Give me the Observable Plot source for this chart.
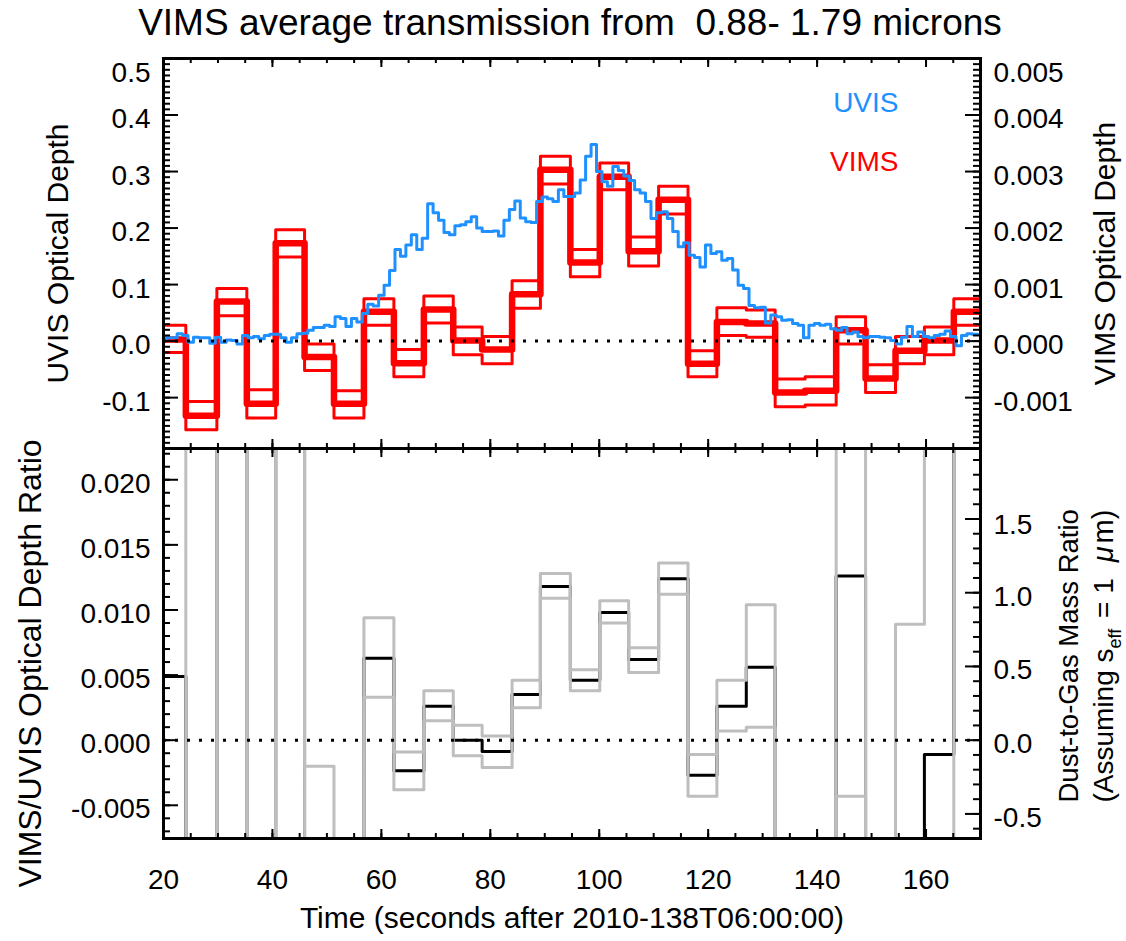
<!DOCTYPE html>
<html><head><meta charset="utf-8">
<script src="https://cdn.jsdelivr.net/npm/d3@7"></script>
<script src="https://cdn.jsdelivr.net/npm/@observablehq/plot@0.6"></script>
<style>
body{margin:0;background:#fff;}
#wrap{position:relative;width:1126px;height:941px;font-family:"Liberation Sans",Arial,Helvetica,sans-serif;overflow:hidden;background:#fff;}
#title{position:absolute;left:7px;top:0;width:1126px;text-align:center;font-size:37px;line-height:46px;color:#000;white-space:pre;}
.panel{position:absolute;left:0;}
</style></head><body>
<div id="wrap"><div id="title">VIMS average transmission from  0.88- 1.79 microns</div></div>
<script>
// ---------------- DATA ----------------
// UVIS optical depth, ~1 s samples starting at t = 19.5 s
const uvisStart = 19.5, uvisStep = 1.0;
const uvisDepth = [
 0.004,0.006,0.006,0.013,0.010,-0.002,0.007,0.006,0.006,-0.004,
 0.007,-0.002,0.002,0.001,-0.005,0.010,0.006,0.008,0.004,0.010,
 0.012,0.012,0.006,-0.002,0.006,0.013,0.014,0.019,0.024,0.024,
 0.028,0.026,0.043,0.040,0.026,0.040,0.034,0.049,0.065,0.062,
 0.081,0.099,0.125,0.162,0.150,0.170,0.188,0.162,0.182,0.243,
 0.227,0.214,0.192,0.188,0.204,0.206,0.211,0.220,0.200,0.194,
 0.194,0.195,0.186,0.214,0.233,0.248,0.218,0.211,0.210,0.247,
 0.255,0.252,0.247,0.268,0.256,0.256,0.262,0.285,0.327,0.348,
 0.300,0.282,0.274,0.309,0.302,0.292,0.284,0.268,0.262,0.247,
 0.217,0.227,0.229,0.217,0.194,0.167,0.174,0.152,0.148,0.131,
 0.170,0.155,0.158,0.143,0.146,0.126,0.099,0.093,0.063,0.059,
 0.060,0.032,0.046,0.043,0.037,0.038,0.031,0.028,0.006,0.028,
 0.031,0.028,0.030,0.022,0.019,0.024,0.013,0.016,0.008,0.006,
 0.008,0.008,0.007,0.006,0.001,-0.005,0.007,0.026,0.008,0.016,
 0.008,0.006,0.010,0.012,0.018,0.008,-0.008,0.010,0.013,0.012];

// VIMS bins (start times, s) and optical depth with upper / lower bounds
const vimsBinStart = [18.7,24.1,29.8,35.3,40.6,45.9,51.3,56.8,62.3,67.8,73.2,78.5,84.0,89.2,
                      94.7,100.1,105.4,110.9,116.3,121.6,127.0,132.3,137.8,143.5,148.9,154.4,159.7,165.1];
const vimsBinEnd = 170.5;
const vimsDepth = [0.00003,-0.00132,0.00070,-0.00111,0.00173,-0.00028,-0.00111,0.00052,-0.00039,0.00056,
                   0.00001,-0.00015,0.00083,0.00303,0.00139,0.00291,0.00159,0.00250,-0.00040,0.00034,
                   0.00031,-0.00091,-0.00088,0.00019,-0.00066,-0.00017,0.00001,0.00052];
const vimsUpper = [0.00028,-0.00107,0.00093,-0.00086,0.00197,-0.00005,-0.00088,0.00075,-0.00015,0.00080,
                   0.00025,0.00008,0.00107,0.00327,0.00162,0.00315,0.00184,0.00274,-0.00017,0.00059,
                   0.00055,-0.00067,-0.00063,0.00043,-0.00042,0.00008,0.00025,0.00075];
const vimsLower = [-0.00020,-0.00157,0.00045,-0.00136,0.00149,-0.00052,-0.00136,0.00028,-0.00063,0.00032,
                   -0.00024,-0.00040,0.00058,0.00278,0.00114,0.00268,0.00133,0.00225,-0.00063,0.00010,
                   0.00007,-0.00116,-0.00113,-0.00005,-0.00091,-0.00040,-0.00024,0.00028];

// VIMS/UVIS optical depth ratio per VIMS bin, with upper / lower bounds
const ratio      = [0.0049,-0.26,0.14,-0.20,0.20,-0.011,-0.05,0.0063,-0.00235,0.0026,
                    0.0000,-0.00087,0.0035,0.0118,0.0046,0.0098,0.0062,0.0124,-0.0027,0.0026,
                    0.0056,-0.05,-0.05,0.0126,-0.05,-0.012,-0.0011,0.05];
const ratioUpper = [0.047,-0.21,0.19,-0.15,0.23,-0.0020,-0.04,0.0094,-0.0009,0.0038,
                    0.00115,0.00033,0.0046,0.0128,0.0054,0.0107,0.0071,0.0136,-0.0011,0.0046,
                    0.0104,-0.04,-0.04,0.04,-0.03,0.0089,0.03,0.075];
const ratioLower = [-0.033,-0.31,0.09,-0.25,0.17,-0.020,-0.06,0.0033,-0.0038,0.0015,
                    -0.0012,-0.0021,0.0025,0.0109,0.0038,0.0090,0.0052,0.0112,-0.0043,0.0007,
                    0.0010,-0.06,-0.06,-0.0043,-0.07,-0.03,-0.03,0.028];

// axes / ticks
const xTicks = [20,40,60,80,100,120,140,160];
const xTickLabels = ["20","40","60","80","100","120","140","160"];
const uvisTicks = [-0.1,0,0.1,0.2,0.3,0.4,0.5];
const uvisTickLabels = ["-0.1","0.0","0.1","0.2","0.3","0.4","0.5"];
const vimsTicks = [-0.001,0,0.001,0.002,0.003,0.004,0.005];
const vimsTickLabels = ["-0.001","0.000","0.001","0.002","0.003","0.004","0.005"];
const ratioTicks = [-0.005,0,0.005,0.010,0.015,0.020];
const ratioTickLabels = ["-0.005","0.000","0.005","0.010","0.015","0.020"];
const dustTicks = [-0.5,0,0.5,1.0,1.5];
const dustTickLabels = ["-0.5","0.0","0.5","1.0","1.5"];
const vimsToUvisAxis = 100;     // right axis (VIMS) -> left axis units
const dustPerRatio = 88.3;      // right axis (dust/gas) per unit of ratio

// ---------------- LAYOUT ----------------
const FONT = "Liberation Sans, Arial, Helvetica, sans-serif";
const W = 1126, ML = 163, MR = 146, FH = 390, FW = W - ML - MR;
const TICK_FS = 28, LABEL_FS = 30;

const steps = (starts, end, vals) =>
  starts.map((t, i) => ({t, v: vals[i]})).concat([{t: end, v: vals[vals.length - 1]}]);
const uvisRows = uvisDepth.map((v, i) => ({t: uvisStart + i * uvisStep, v}))
  .concat([{t: uvisStart + uvisDepth.length * uvisStep, v: uvisDepth[uvisDepth.length - 1]}]);

const xMinor = d3.range(20, 170.01, 5);
function xTickMarks() {
  const s = {stroke: "black", strokeWidth: 2};
  return [
    Plot.ruleX(xMinor, {...s, insetTop: FH - 5}),
    Plot.ruleX(xTicks, {...s, insetTop: FH - 9}),
    Plot.ruleX(xMinor, {...s, insetBottom: FH - 5}),
    Plot.ruleX(xTicks, {...s, insetBottom: FH - 9})
  ];
}
function yTickMarks(major, minor, side) {
  const s = {stroke: "black", strokeWidth: 2};
  const k = side === "left" ? "insetRight" : "insetLeft";
  return [
    Plot.ruleY(minor, {...s, [k]: FW - 7}),
    Plot.ruleY(major, {...s, [k]: FW - 15})
  ];
}
function tickText(vals, labels, side, dyTop) {
  const n = vals.length;
  const base = {
    y: d => d, frameAnchor: side, textAnchor: side === "left" ? "end" : "start", lineAnchor: "middle",
    dx: side === "left" ? -13 : 13, fontSize: TICK_FS, fill: "black"
  };
  return [
    Plot.text(vals.slice(0, n - 1), {...base, text: (d, i) => labels[i], dy: 4}),
    Plot.text(vals.slice(n - 1), {...base, text: () => labels[n - 1], dy: dyTop})
  ];
}
const rotLabel = (txt, o) => Plot.text([txt], {rotate: -90, textAnchor: "middle", lineAnchor: "middle", fill: "black", fontSize: LABEL_FS, ...o});

// ---------------- TOP PANEL ----------------
const topPlot = Plot.plot({
  width: W, height: 448, marginLeft: ML, marginRight: MR, marginTop: 58, marginBottom: 0,
  x: {domain: [20, 170], axis: null},
  y: {domain: [-0.19, 0.5], axis: null},
  style: {fontFamily: FONT, background: "transparent", overflow: "visible"},
  marks: [
    Plot.line(steps(vimsBinStart, vimsBinEnd, vimsUpper), {x: "t", y: d => d.v * vimsToUvisAxis, curve: "step-after", stroke: "#ff0000", strokeWidth: 3, clip: true}),
    Plot.line(steps(vimsBinStart, vimsBinEnd, vimsLower), {x: "t", y: d => d.v * vimsToUvisAxis, curve: "step-after", stroke: "#ff0000", strokeWidth: 3, clip: true}),
    Plot.line(steps(vimsBinStart, vimsBinEnd, vimsDepth), {x: "t", y: d => d.v * vimsToUvisAxis, curve: "step-after", stroke: "#ff0000", strokeWidth: 6.5, clip: true}),
    Plot.line(uvisRows, {x: "t", y: "v", curve: "step-after", stroke: "#1e90ff", strokeWidth: 3, clip: true}),
    Plot.ruleY([0], {stroke: "black", strokeWidth: 3, strokeDasharray: "3 9"}),
    ...xTickMarks(),
    ...yTickMarks(uvisTicks, d3.range(-0.19, 0.5001, 0.01), "left"),
    ...yTickMarks(vimsTicks.map(v => v * vimsToUvisAxis), d3.range(-0.0019, 0.005001, 0.0001).map(v => v * vimsToUvisAxis), "right"),
    Plot.frame({stroke: "black", strokeWidth: 3}),
    ...tickText(uvisTicks, uvisTickLabels, "left", 15),
    ...tickText(vimsTicks.map(v => v * vimsToUvisAxis), vimsTickLabels, "right", 15),
    rotLabel("UVIS Optical Depth", {frameAnchor: "left", dx: -105}),
    rotLabel("VIMS Optical Depth", {frameAnchor: "right", dx: 125}),
    Plot.text(["UVIS"], {frameAnchor: "top-right", dx: -82, dy: 45, textAnchor: "end", lineAnchor: "middle", fontSize: 28, fill: "#1e90ff"}),
    Plot.text(["VIMS"], {frameAnchor: "top-right", dx: -82, dy: 104, textAnchor: "end", lineAnchor: "middle", fontSize: 28, fill: "#ff0000"})
  ]
});
topPlot.classList.add("panel");
topPlot.style.top = "0px";

// ---------------- BOTTOM PANEL ----------------
const label2 = "(Assuming seff = 1 μm)";
const botPlot = Plot.plot({
  width: W, height: 493, marginLeft: ML, marginRight: MR, marginTop: 0, marginBottom: 103,
  x: {domain: [20, 170], axis: null},
  y: {domain: [-0.00755, 0.0224], axis: null},
  style: {fontFamily: FONT, background: "transparent", overflow: "visible"},
  marks: [
    Plot.line(steps(vimsBinStart, vimsBinEnd, ratio), {x: "t", y: "v", curve: "step-after", stroke: "black", strokeWidth: 3, clip: true}),
    Plot.line(steps(vimsBinStart, vimsBinEnd, ratioUpper), {x: "t", y: "v", curve: "step-after", stroke: "#bebebe", strokeWidth: 3, clip: true}),
    Plot.line(steps(vimsBinStart, vimsBinEnd, ratioLower), {x: "t", y: "v", curve: "step-after", stroke: "#bebebe", strokeWidth: 3, clip: true}),
    Plot.ruleY([0], {stroke: "black", strokeWidth: 3, strokeDasharray: "3 9"}),
    ...xTickMarks(),
    ...yTickMarks(ratioTicks, d3.range(-0.007, 0.02201, 0.001), "left"),
    ...yTickMarks(dustTicks.map(v => v / dustPerRatio), d3.range(-0.6, 1.9501, 0.1).map(v => v / dustPerRatio), "right"),
    Plot.frame({stroke: "black", strokeWidth: 3}),
    ...tickText(ratioTicks, ratioTickLabels, "left", 4),
    ...tickText(dustTicks.map(v => v / dustPerRatio), dustTickLabels, "right", 6),
    Plot.text(xTicks, {x: d => d, text: (d, i) => xTickLabels[i], frameAnchor: "bottom", lineAnchor: "middle", dy: 42, fontSize: TICK_FS, fill: "black"}),
    Plot.text(["Time (seconds after 2010-138T06:00:00)"], {frameAnchor: "bottom", lineAnchor: "middle", dy: 80, fontSize: LABEL_FS, fill: "black"}),
    rotLabel("VIMS/UVIS Optical Depth Ratio", {frameAnchor: "left", dx: -133, dy: 20, fontSize: 32}),
    rotLabel("Dust-to-Gas Mass Ratio", {frameAnchor: "bottom-right", dx: 89, dy: -36, textAnchor: "start", fontSize: 27.5}),
    rotLabel(label2, {frameAnchor: "bottom-right", dx: 124, dy: -36, textAnchor: "start", fontSize: 28})
  ]
});
botPlot.classList.add("panel");
botPlot.style.top = "448px";

// subscript "eff" and Greek mu
d3.select(botPlot).selectAll("text").filter(function() { return this.textContent === label2; })
  .each(function() {
    const t = d3.select(this);
    t.text(null);
    t.append("tspan").text("(Assuming s");
    t.append("tspan").attr("dy", 8).attr("font-size", 18).text("eff");
    t.append("tspan").attr("dy", -8).attr("dx", 3).text(" = 1");
    t.append("tspan").attr("dx", 16).attr("font-style", "italic").attr("font-size", 29).text("μ");
    t.append("tspan").attr("dx", 3).attr("font-size", 29).text("m)");
  });

const wrap = document.getElementById("wrap");
wrap.appendChild(topPlot);
wrap.appendChild(botPlot);
</script>
</body></html>
